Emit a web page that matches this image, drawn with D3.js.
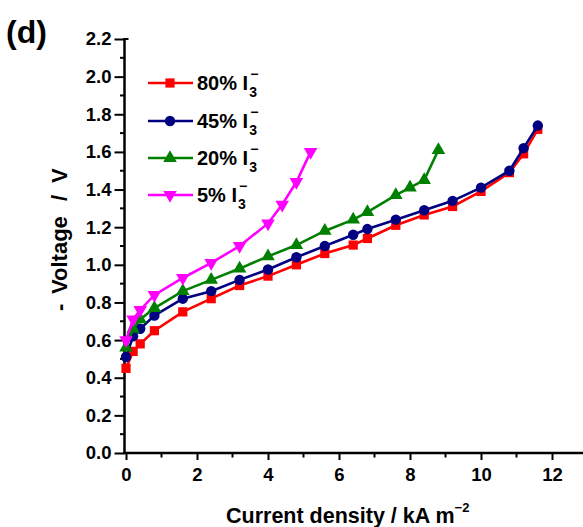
<!DOCTYPE html>
<html><head><meta charset="utf-8">
<script src="https://cdn.jsdelivr.net/npm/d3@7"></script>
<style>
html,body{margin:0;padding:0;background:#fff;}
svg{display:block;font-family:"Liberation Sans",Arial,sans-serif;font-weight:bold;}
</style></head>
<body>
<script>
// ---- data ----
const x80 = [0, 0.2, 0.4, 0.8, 1.6, 2.4, 3.2, 4.0, 4.8, 5.6, 6.4, 6.8, 7.6, 8.4, 9.2, 10.0, 10.8, 11.2, 11.6];
const y80 = [0.45, 0.54, 0.58, 0.65, 0.75, 0.82, 0.89, 0.94, 1.00, 1.06, 1.105, 1.14, 1.21, 1.265, 1.31, 1.39, 1.49, 1.59, 1.72];
const x45 = [0, 0.2, 0.4, 0.8, 1.6, 2.4, 3.2, 4.0, 4.8, 5.6, 6.4, 6.8, 7.6, 8.4, 9.2, 10.0, 10.8, 11.2, 11.6];
const y45 = [0.51, 0.62, 0.66, 0.73, 0.82, 0.86, 0.92, 0.975, 1.04, 1.10, 1.16, 1.19, 1.24, 1.29, 1.34, 1.41, 1.50, 1.62, 1.74];
const x20 = [0, 0.2, 0.4, 0.8, 1.6, 2.4, 3.2, 4.0, 4.8, 5.6, 6.4, 6.8, 7.6, 8.0, 8.4, 8.8];
const y20 = [0.56, 0.66, 0.71, 0.77, 0.86, 0.92, 0.98, 1.045, 1.105, 1.18, 1.24, 1.28, 1.37, 1.41, 1.45, 1.61];
const x5 = [0, 0.2, 0.4, 0.8, 1.6, 2.4, 3.2, 4.0, 4.4, 4.8, 5.2];
const y5 = [0.60, 0.71, 0.76, 0.84, 0.93, 1.01, 1.10, 1.22, 1.32, 1.44, 1.60];
const seriesNames = ["80%", "45%", "20%", "5%"];
const xTicks = [0, 2, 4, 6, 8, 10, 12];
const yTicks = [0.0, 0.2, 0.4, 0.6, 0.8, 1.0, 1.2, 1.4, 1.6, 1.8, 2.0, 2.2];

const series = [
  {name: seriesNames[0], xs: x80, ys: y80, color: "#ff0000", sym: d3.symbolSquare, size: 85},
  {name: seriesNames[1], xs: x45, ys: y45, color: "#000080", sym: d3.symbolCircle, size: 85},
  {name: seriesNames[2], xs: x20, ys: y20, color: "#008000", sym: d3.symbolTriangle, size: 80, rot: 0},
  {name: seriesNames[3], xs: x5, ys: y5, color: "#ff00ff", sym: d3.symbolTriangle, size: 80, rot: 180}
];

const W = 583, H = 527;
const FONT = "Liberation Sans, Arial, sans-serif";
const svg = d3.select("body").append("svg").attr("width", W).attr("height", H);

const x = d3.scaleLinear().domain([0, 13]).range([126, 126 + 13 * 35.5]);
const y = d3.scaleLinear().domain([0, 2.2]).range([453, 39]);

// x axis
const xAxis = d3.axisBottom(x).tickValues(xTicks).tickFormat(d3.format("d")).tickSize(7).tickPadding(8);
const gx = svg.append("g").attr("transform", "translate(0,453)").call(xAxis);
gx.select(".domain").remove();
gx.append("line").attr("x1", 123).attr("x2", W).attr("y1", 0).attr("y2", 0).attr("stroke", "#000").attr("stroke-width", 2.5);
gx.selectAll(".tick line").attr("stroke-width", 2);
gx.selectAll(".tick text").attr("font-size", 18.5).attr("font-weight", "bold").attr("fill", "#000").attr("font-family", FONT);
svg.append("g").selectAll("line").data(d3.range(1, 13, 2)).join("line")
  .attr("x1", d => x(d)).attr("x2", d => x(d)).attr("y1", 453).attr("y2", 457.5)
  .attr("stroke", "#000").attr("stroke-width", 2);

// y axis
const yAxis = d3.axisLeft(y).tickValues(yTicks).tickFormat(d3.format(".1f")).tickSize(10).tickPadding(3);
const gy = svg.append("g").attr("transform", "translate(124.5,0)").call(yAxis);
gy.select(".domain").remove();
gy.append("line").attr("x1", 0).attr("x2", 0).attr("y1", y(2.2) - 1).attr("y2", 454).attr("stroke", "#000").attr("stroke-width", 2.5);
gy.selectAll(".tick line").attr("stroke-width", 2);
gy.selectAll(".tick text").attr("font-size", 18.5).attr("font-weight", "bold").attr("fill", "#000").attr("font-family", FONT);
svg.append("line").attr("x1", 124).attr("x2", 128.5).attr("y1", y(2.2)).attr("y2", y(2.2)).attr("stroke", "#000").attr("stroke-width", 2);
svg.append("g").selectAll("line").data(d3.range(0.1, 2.2, 0.2)).join("line")
  .attr("x1", 120).attr("x2", 124.5).attr("y1", d => y(d)).attr("y2", d => y(d))
  .attr("stroke", "#000").attr("stroke-width", 2);

// series
const line = d3.line().x(d => x(d[0])).y(d => y(d[1]));
series.forEach(s => {
  const pts = s.xs.map((v, i) => [v, s.ys[i]]);
  const g = svg.append("g");
  g.append("path").attr("d", line(pts)).attr("fill", "none").attr("stroke", s.color).attr("stroke-width", 2.6);
  g.selectAll("path.m").data(pts).join("path").attr("class", "m")
    .attr("d", d3.symbol().type(s.sym).size(s.size))
    .attr("transform", d => `translate(${x(d[0])},${y(d[1])})` + (s.rot ? ` rotate(${s.rot})` : ""))
    .attr("fill", s.color);
});

// legend
const legY = [83, 121, 158, 195];
series.forEach((s, i) => {
  const g = svg.append("g").attr("transform", `translate(0,${legY[i]})`);
  g.append("line").attr("x1", 148).attr("x2", 193).attr("y1", 0).attr("y2", 0).attr("stroke", s.color).attr("stroke-width", 2.6);
  g.append("path").attr("d", d3.symbol().type(s.sym).size(s.size)())
    .attr("transform", `translate(170,0)` + (s.rot ? ` rotate(${s.rot})` : "")).attr("fill", s.color);
  const t = g.append("text").attr("x", 197).attr("y", 7).attr("font-size", 20).attr("fill", "#000").text(s.name + " I");
  const w = t.node().getComputedTextLength();
  g.append("text").attr("x", 197 + w + 1).attr("y", 14).attr("font-size", 14).attr("fill", "#000").text("3");
  g.append("text").attr("x", 197 + w + 2).attr("y", -4).attr("font-size", 14).attr("fill", "#000").text("\u2212");
});

// x title
const xt = svg.append("text").attr("x", 226).attr("y", 523).attr("font-size", 21.5).attr("fill", "#000");
xt.append("tspan").text("Current density / kA m");
xt.append("tspan").attr("dy", -11).attr("font-size", 13).text("\u22122");

// y title (pieces placed to match the wide spacing of the original)
const yt = svg.append("g").attr("transform", "translate(67,310) rotate(-90)")
  .attr("font-size", 22).attr("fill", "#000");
yt.append("text").attr("x", -1).attr("y", 0).text("-");
yt.append("text").attr("x", 16).attr("y", 0).text("Voltage");
yt.append("text").attr("x", 109).attr("y", 0).text("/");
yt.append("text").attr("x", 127).attr("y", 0).text("V");

svg.append("text").attr("x", 6).attr("y", 43).attr("font-size", 32).attr("fill", "#000").text("(d)");
</script>
</body></html>
